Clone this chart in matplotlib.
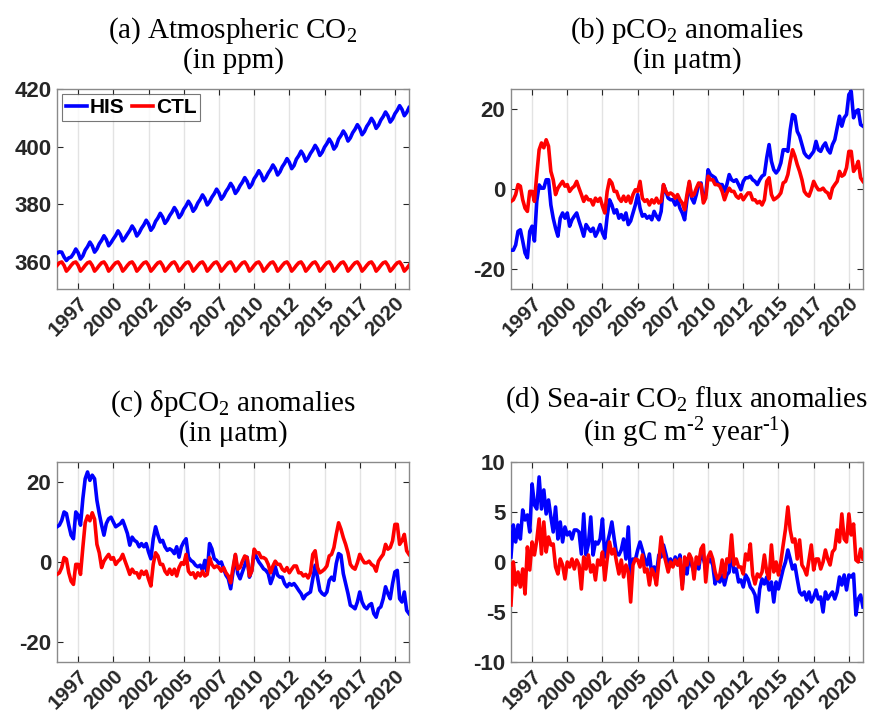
import numpy as np
import matplotlib

matplotlib.use("Agg")
import matplotlib.pyplot as plt

# bimonthly samples (Jan, Mar, May, Jul, Sep, Nov), 1996 .. 2020, plus Jan 2021
start_year = 1996
steps_per_year = 6

# (a) atmospheric CO2 (ppm)
co2_his = [
    363.0, 363.4, 363.3, 361.6, 360.4, 361.3,
    361.6, 362.8, 364.4, 363.1, 360.9, 362.0,
    364.0, 365.2, 366.8, 365.5, 363.3, 364.4,
    366.2, 367.4, 369.0, 367.7, 365.5, 366.6,
    367.9, 369.1, 370.7, 369.4, 367.2, 368.3,
    369.6, 370.8, 372.4, 371.1, 368.9, 370.0,
    371.6, 372.8, 374.4, 373.1, 370.9, 372.0,
    374.0, 375.2, 376.8, 375.5, 373.3, 374.4,
    376.0, 377.2, 378.8, 377.5, 375.3, 376.4,
    378.2, 379.4, 381.0, 379.7, 377.5, 378.6,
    380.4, 381.6, 383.2, 381.9, 379.7, 380.8,
    382.4, 383.6, 385.2, 383.9, 381.7, 382.8,
    384.4, 385.6, 387.2, 385.9, 383.7, 384.8,
    386.4, 387.6, 389.2, 387.9, 385.7, 386.8,
    388.8, 390.0, 391.6, 390.3, 388.1, 389.2,
    390.8, 392.0, 393.6, 392.3, 390.1, 391.2,
    393.0, 394.2, 395.8, 394.5, 392.3, 393.4,
    395.6, 396.8, 398.4, 397.1, 394.9, 396.0,
    397.6, 398.8, 400.4, 399.1, 396.9, 398.0,
    399.8, 401.0, 402.6, 401.3, 399.1, 400.2,
    402.6, 403.8, 405.4, 404.1, 401.9, 403.0,
    404.8, 406.0, 407.6, 406.3, 404.1, 405.2,
    407.0, 408.2, 409.8, 408.5, 406.3, 407.4,
    409.2, 410.4, 412.0, 410.7, 408.5, 409.6,
    411.4, 412.6, 414.2, 412.9, 410.7, 411.8,
    413.5,
]
co2_ctl = [
    358.7, 359.6, 359.9, 358.7, 356.7, 357.6,
    358.7, 359.6, 359.9, 358.7, 356.7, 357.6,
    358.7, 359.6, 359.9, 358.7, 356.7, 357.6,
    358.7, 359.6, 359.9, 358.7, 356.7, 357.6,
    358.7, 359.6, 359.9, 358.7, 356.7, 357.6,
    358.7, 359.6, 359.9, 358.7, 356.7, 357.6,
    358.7, 359.6, 359.9, 358.7, 356.7, 357.6,
    358.7, 359.6, 359.9, 358.7, 356.7, 357.6,
    358.7, 359.6, 359.9, 358.7, 356.7, 357.6,
    358.7, 359.6, 359.9, 358.7, 356.7, 357.6,
    358.7, 359.6, 359.9, 358.7, 356.7, 357.6,
    358.7, 359.6, 359.9, 358.7, 356.7, 357.6,
    358.7, 359.6, 359.9, 358.7, 356.7, 357.6,
    358.7, 359.6, 359.9, 358.7, 356.7, 357.6,
    358.7, 359.6, 359.9, 358.7, 356.7, 357.6,
    358.7, 359.6, 359.9, 358.7, 356.7, 357.6,
    358.7, 359.6, 359.9, 358.7, 356.7, 357.6,
    358.7, 359.6, 359.9, 358.7, 356.7, 357.6,
    358.7, 359.6, 359.9, 358.7, 356.7, 357.6,
    358.7, 359.6, 359.9, 358.7, 356.7, 357.6,
    358.7, 359.6, 359.9, 358.7, 356.7, 357.6,
    358.7, 359.6, 359.9, 358.7, 356.7, 357.6,
    358.7, 359.6, 359.9, 358.7, 356.7, 357.6,
    358.7, 359.6, 359.9, 358.7, 356.7, 357.6,
    358.7, 359.6, 359.9, 358.7, 356.7, 357.6,
    358.7,
]

# (b) pCO2 anomalies (uatm)
pco2_his = [
    -15.3, -15.3, -14.0, -10.6, -10.2, -13.0,
    -16.0, -17.2, -10.6, -9.3, -13.0, -3.0,
    1.0, 0.2, 0.2, 2.3, 2.3, -4.0,
    -7.3, -9.8, -11.8, -7.3, -6.0, -7.3,
    -6.0, -9.3, -7.7, -6.8, -6.0, -8.0,
    -9.8, -11.8, -8.9, -9.8, -10.6, -9.8,
    -11.8, -10.6, -8.9, -11.0, -12.3, -6.8,
    -2.7, -4.0, -6.0, -5.2, -7.3, -6.4,
    -7.7, -6.0, -8.9, -8.0, -6.0, -4.0,
    -1.4, -4.8, -6.8, -6.4, -7.3, -6.8,
    -7.7, -5.6, -6.8, -7.7, -5.6, 1.0,
    -0.6, -2.3, -2.7, -2.7, -4.0, -2.7,
    -4.8, -6.0, -7.7, -2.7, 1.5, -2.3,
    -3.5, -1.4, 1.1, 1.5, -2.7, -1.4,
    4.8, 3.6, 3.2, 2.8, 1.5, 1.1,
    1.1, -0.6, 1.1, 3.6, 2.3, 1.9,
    2.3, 1.1, -0.2, 1.9, 2.8, 2.8,
    3.2, 2.3, 1.9, 1.1, 2.3, 3.2,
    3.6, 7.8, 11.1, 6.9, 4.8, 4.0,
    4.8, 6.5, 9.8, 9.8, 9.4, 14.8,
    18.6, 18.2, 14.4, 13.2, 11.1, 9.0,
    8.2, 7.8, 8.6, 9.4, 11.9, 9.8,
    9.4, 10.7, 11.5, 9.8, 9.0, 11.1,
    12.3, 15.3, 18.2, 15.7, 17.8, 18.6,
    23.6, 24.4, 17.8, 19.4, 19.8, 16.1,
    15.7,
]
# CTL: atmospheric CO2 has no anomaly, so the same curve shows in (b) and (c)
pco2_ctl = [
    -3.1, -2.7, -1.4, 1.1, 0.7, -2.7,
    -4.8, -5.6, -0.6, -0.6, -3.1, 3.6,
    9.8, 11.5, 10.3, 12.3, 10.7, 4.4,
    2.3, -1.4, 0.2, 1.1, 1.9, 0.7,
    1.1, -0.6, 0.2, 0.7, 1.9, 0.2,
    -1.4, -3.1, -1.8, -2.7, -2.7, -4.0,
    -2.3, -3.1, -2.3, -4.3, -6.0, -0.6,
    2.3, 1.5, -0.6, -0.6, -2.3, -3.1,
    -1.8, -3.1, -1.8, -3.5, -1.4, -0.2,
    -0.6, 1.9, -2.3, -3.1, -2.7, -4.0,
    -2.7, -3.5, -2.3, -3.5, -3.1, 1.1,
    -0.6, -1.4, -1.0, -1.4, -2.3, -1.4,
    -2.7, -3.5, -5.2, -1.4, 1.9, -1.8,
    -1.4, 0.2, 1.5, 1.1, -3.5, -2.3,
    3.2, 2.3, 2.3, 1.1, 1.1, 0.7,
    -0.6, -2.7, -1.0, 0.2, -0.6, -0.6,
    -1.8, -2.3, -1.4, -2.7, -1.8, -1.0,
    -1.0, -2.7, -2.7, -3.5, -3.1, -4.0,
    -2.7, 1.9, 2.8, -1.4, -2.7, -2.3,
    -1.8, -1.0, 1.5, 1.9, 3.6, 6.9,
    9.8, 8.2, 6.1, 4.4, 2.3, -0.6,
    -1.4, -1.8, -0.2, 1.9, 0.7, -0.2,
    -0.2, 0.2, -0.6, -1.0, -2.3, 0.2,
    1.1, 1.9, 4.4, 3.2, 3.6, 5.3,
    9.4, 9.4, 4.4, 5.3, 6.9, 2.8,
    1.9,
]

# (c) delta pCO2 anomalies (uatm)
dpco2_his = [
    8.8, 9.2, 10.4, 12.5, 12.1, 9.2,
    6.7, 5.8, 12.5, 11.7, 9.2, 15.8,
    20.8, 22.5, 20.4, 21.7, 20.8, 15.4,
    12.1, 9.2, 6.7, 9.6, 10.8, 11.2,
    10.0, 8.8, 9.2, 9.6, 10.4, 8.8,
    7.1, 4.2, 6.2, 5.4, 5.0, 3.8,
    4.6, 3.8, 4.6, 2.5, 0.8, 5.8,
    8.8, 6.7, 5.0, 5.4, 3.8, 2.9,
    3.3, 2.9, 2.1, 3.8, 1.2, 3.8,
    5.0, 5.8, 1.2, 0.4, 0.0, -0.8,
    -1.2, -0.8, -2.1, 0.4, -2.5, 4.6,
    3.3, 0.8, 0.4, -0.4, 0.0, -1.7,
    -3.3, -4.2, -6.7, -2.5, 1.7, -2.9,
    -4.2, -2.5, -0.8, 1.2, -3.8, -2.1,
    2.5, 1.2, 0.0, -0.8, -1.7, -2.1,
    -2.9, -5.4, -3.8, -1.2, -3.3, -3.8,
    -3.8, -5.4, -6.2, -5.4, -5.8, -5.4,
    -6.2, -7.1, -7.9, -9.2, -8.3, -7.9,
    -7.5, -4.2, -0.8, -3.8, -7.1, -7.9,
    -8.3, -7.5, -4.6, -3.8, -4.6, -0.4,
    2.1, 1.7, -2.9, -5.4, -7.9, -10.8,
    -11.2, -11.7, -10.0, -7.5, -10.0, -11.2,
    -11.7, -10.8, -10.4, -12.9, -13.8, -11.7,
    -11.2, -9.2, -6.2, -7.9, -9.2, -5.4,
    -2.5, -2.1, -9.2, -10.0, -7.5, -12.1,
    -12.9,
]
dpco2_ctl = pco2_ctl

# (d) sea-air CO2 flux anomalies (gC m-2 year-1)
flux_his = [
    0.5, 3.7, 2.0, 3.7, 2.3, 5.2,
    4.2, 4.7, 3.0, 7.8, 5.7, 5.3,
    8.5, 5.3, 7.2, 4.8, 6.2, 4.5,
    3.0, 5.5, 2.3, 4.0, 2.0, 3.5,
    2.7, 3.0, 2.3, 3.2, 3.2, 3.0,
    0.8, 4.8, 0.7, 1.8, 4.5, 0.7,
    2.0, 1.8, 2.3, 4.3, 0.5, 1.8,
    2.8, 4.0, 2.3, 0.8, 0.7, 1.2,
    2.3, 0.3, 3.5, -1.7, 0.3, 0.2,
    1.2, 2.0, 1.2, 0.3, -0.3, 0.8,
    -1.2, -0.5, -1.2, 0.7, 0.5, 1.7,
    0.8, -0.2, 0.3, -0.3, 0.5, -0.3,
    0.7, -2.3, -0.3, -1.2, 0.7, -0.3,
    -1.0, 0.0, -0.7, 1.0, 0.3, -0.5,
    0.0, 0.3, -0.3, -2.2, -1.5, -2.0,
    -1.3, -2.3, -1.3, -1.0, 1.5, -1.0,
    -0.7, -2.0, -1.8, -2.5, -1.3, -1.7,
    -2.5, -2.8, -3.3, -5.0, -2.7, -1.7,
    -2.2, -1.5, -2.8, -2.0, -4.0, -2.0,
    -2.7, -1.7, -0.7, 0.0, 1.2, 0.3,
    -0.7, -0.3, -1.7, -3.0, -3.3, -3.0,
    -3.8, -3.0, -4.0, -3.5, -2.8, -3.7,
    -3.5, -5.0, -3.0, -3.7, -3.3, -3.0,
    -3.7, -3.0, -1.5, -2.3, -1.3, -2.8,
    -1.3, -1.5, -1.2, -5.3, -3.7, -3.3,
    -4.5,
]
flux_ctl = [
    -4.3, 0.0, -2.3, -1.0, -2.5, -0.7,
    -3.2, 1.5, -0.8, 2.0, 0.7, 2.2,
    4.3, 0.8, 4.0, 1.0, 2.5, 1.7,
    1.8, -0.5, -1.2, 0.3, -0.3, -1.7,
    0.0, -0.5, 0.3, -0.7, 0.2, -0.3,
    -2.7, 0.5, -0.7, 0.7, -1.0, -0.3,
    -1.8, 0.2, -0.3, 1.0, -1.8, 0.3,
    2.0, 0.8, 1.3, 0.0, -1.2, 0.2,
    -1.5, -0.3, -1.0, -4.0, -0.3, 0.3,
    0.2, -0.5, 0.7, -1.0, -0.7, -2.3,
    -0.7, -1.2, -2.3, 0.0, 2.5, 1.0,
    0.0, -1.0, 0.0, -0.5, 0.2, -0.3,
    0.3, -2.7, 0.5, -0.3, 0.8, 0.3,
    -1.7, 0.5, -0.2, 1.3, 1.7, -2.0,
    0.5, 1.0, 0.3, -1.0, -1.7, -1.3,
    0.2, -1.5, 0.3, 0.0, 2.7, -0.3,
    0.3, -0.5, -0.5, -1.2, 0.8, 0.2,
    1.8, -1.3, -2.2, -1.2, -1.5, -1.0,
    0.7, -1.0, -1.7, 1.7, -1.0, 0.0,
    -1.3, 0.0, 1.7, 3.3, 5.5, 3.2,
    2.0, 2.3, 0.3, 2.2, -0.3, -0.7,
    -1.3, 0.2, 1.7, -0.8, 0.3, 0.3,
    -0.7, 0.0, 1.2, 0.3, -0.3, 1.0,
    1.3, 3.2, 2.0, 4.8, 2.3, 2.0,
    4.8, 2.7, 3.8, 0.2, 0.0, 1.3,
    0.3,
]

tick_years = [1997.5, 2000, 2002.5, 2005, 2007.5, 2010, 2012.5, 2015, 2017.5, 2020]
tick_labels = ["1997", "2000", "2002", "2005", "2007", "2010", "2012", "2015", "2017", "2020"]

panels = [
    ("(a) Atmospheric CO$_2$\n(in ppm)", co2_his, co2_ctl, (350.5, 420), [360, 380, 400, 420]),
    ("(b) pCO$_2$ anomalies\n(in \u03bcatm)", pco2_his, pco2_ctl, (-25, 25), [-20, 0, 20]),
    ("(c) \u03b4pCO$_2$ anomalies\n(in \u03bcatm)", dpco2_his, dpco2_ctl, (-25, 25), [-20, 0, 20]),
    ("(d) Sea-air CO$_2$ flux anomalies\n(in gC m$^{\u20102}$ year$^{\u20101}$)", flux_his, flux_ctl, (-10, 10), [-10, -5, 0, 5, 10]),
]

plt.rcParams["mathtext.default"] = "regular"

ytick_font = {"family": "Liberation Sans", "weight": "bold", "size": 16}
xtick_font = {"family": "Liberation Sans", "weight": "bold", "size": 15}
frame_color = "#8a8a8a"
label_color = "#262626"

fig = plt.figure(figsize=(8.76, 7.18), dpi=100)
positions = [
    [0.0651, 0.5975, 0.4018, 0.2786],
    [0.5833, 0.5975, 0.4018, 0.2786],
    [0.0651, 0.0780, 0.4018, 0.2786],
    [0.5833, 0.0780, 0.4018, 0.2786],
]

for k, (title, his, ctl, ylim, yticks) in enumerate(panels):
    ax = fig.add_axes(positions[k])
    t = start_year + np.arange(len(his)) / steps_per_year
    ax.plot(t, his, color=(0, 0, 1), lw=2.6, label="HIS", zorder=3)
    ax.plot(t, ctl, color=(1, 0, 0), lw=2.6, label="CTL", zorder=3)

    ax.set_xlim(1996, 2021)
    ax.set_ylim(*ylim)
    ax.set_xticks(tick_years)
    ax.set_xticklabels(tick_labels, rotation=45, ha="right", rotation_mode="anchor", fontdict=xtick_font, color=label_color)
    ax.set_yticks(yticks)
    ax.set_yticklabels([str(v) for v in yticks], fontdict=ytick_font, color=label_color)
    ax.tick_params(axis="both", direction="in", length=4, width=0.8, color=label_color,
                   top=True, right=True, pad=4)
    ax.tick_params(axis="x", pad=3)
    ax.grid(axis="x", color="#e3e3e3", lw=1.0, zorder=0)
    for s in ax.spines.values():
        s.set_color(frame_color)
        s.set_linewidth(1.0)
    ax.set_title(title, family="Liberation Serif", fontsize=21, color="black", pad=15, linespacing=1.05)

    if k == 0:
        leg = ax.legend(loc="upper left", ncol=2, frameon=True, fancybox=False,
                        handlelength=1.0, handletextpad=0.12, columnspacing=0.4,
                        borderaxespad=0.25, borderpad=0.18,
                        prop={"family": "Liberation Sans", "weight": "bold", "size": 15})
        leg.get_frame().set_edgecolor("#555555")
        leg.get_frame().set_linewidth(0.8)

fig.savefig("out.png", dpi=100)
